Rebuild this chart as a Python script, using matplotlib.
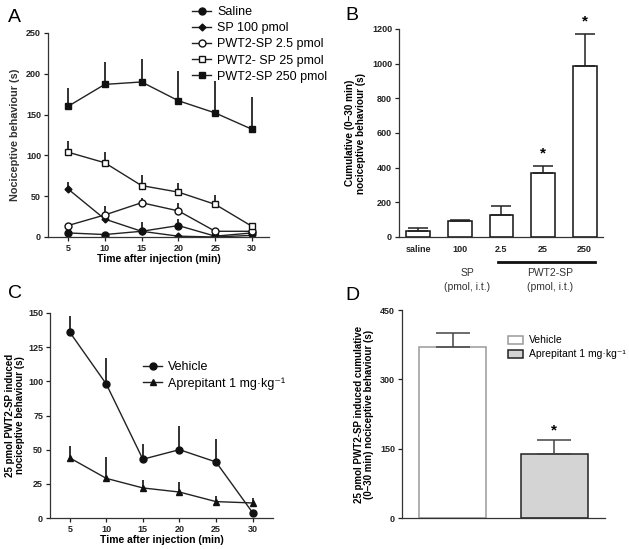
import matplotlib
matplotlib.use('Agg')
import matplotlib.pyplot as plt
import numpy as np

plt.rcParams['font.family'] = ['Liberation Sans', 'DejaVu Sans']

# --- panel A: time course ---
times = [5, 10, 15, 20, 25, 30]
saline = [5, 3, 7, 14, 1, 5]
saline_err = [2, 1, 11, 8, 1, 1]
sp100 = [59, 22, 7, 1, 0, 2]
sp100_err = [9, 5, 3, 1, 1, 1]
pwt_2_5 = [14, 27, 42, 32, 7, 7]
pwt_2_5_err = [3, 11, 6, 10, 2, 2]
pwt_25 = [104, 91, 63, 55, 40, 13]
pwt_25_err = [14, 13, 13, 11, 11, 2]
pwt_250 = [160, 187, 190, 167, 152, 132]
pwt_250_err = [23, 28, 28, 37, 39, 39]

# --- panel B: cumulative ---
b_labels = ['saline', '100', '2.5', '25', '250']
b_vals = [37, 94, 129, 369, 985]
b_err = [15, 6, 48, 40, 186]

# --- panel C: aprepitant time course ---
vehicle = [136, 98, 43, 50, 41, 4]
vehicle_err = [12, 19, 11, 17, 17, 0]
aprep = [44, 29, 22, 19, 12, 11]
aprep_err = [9, 16, 6, 7, 4, 4]

# --- panel D: cumulative aprepitant ---
d_labels = ['Vehicle', 'Aprepitant 1 mg·kg⁻¹']
d_vals = [369, 139]
d_err = [31, 29]

W, H = 629, 549
fig = plt.figure(figsize=(W / 100, H / 100), dpi=100)


def box(l, t, r, b):
    return [l / W, 1 - b / H, (r - l) / W, (b - t) / H]


def style(ax):
    for s in ['top', 'right']:
        ax.spines[s].set_visible(False)
    for s in ['left', 'bottom']:
        ax.spines[s].set_color('#333333')
        ax.spines[s].set_linewidth(0.9)
    ax.tick_params(labelsize=6.5, width=0.9, length=3, pad=2, colors='#222222')
    for lab in ax.get_xticklabels() + ax.get_yticklabels():
        lab.set_fontweight('bold')


def line(ax, x, y, err, marker, face, label, ms=5):
    ax.errorbar(x, y, yerr=[np.zeros(len(err)), err], fmt='none',
                ecolor='#222222', elinewidth=1.3, capsize=0)
    ax.plot(x, y, color='#222222', lw=1, marker=marker, ms=ms,
            mfc=face, mec='#111111', mew=1, label=label)


# A
axA = fig.add_axes(box(48, 33, 269, 237))
line(axA, times, saline, saline_err, 'o', '#111111', 'Saline')
line(axA, times, sp100, sp100_err, 'D', '#111111', 'SP 100 pmol', ms=3.5)
line(axA, times, pwt_2_5, pwt_2_5_err, 'o', 'white', 'PWT2-SP 2.5 pmol')
line(axA, times, pwt_25, pwt_25_err, 's', 'white', 'PWT2- SP 25 pmol')
line(axA, times, pwt_250, pwt_250_err, 's', '#111111', 'PWT2-SP 250 pmol')
axA.set_xlim(2.3, 32.3)
axA.set_ylim(0, 250)
axA.set_xticks(times)
axA.set_yticks([0, 50, 100, 150, 200, 250])
style(axA)
axA.set_xlabel('Time after injection (min)', fontsize=7.5, fontweight='bold', labelpad=1)
axA.set_ylabel('Nociceptive behaviour (s)', fontsize=7.8, fontweight='bold',
               labelpad=4, color='#333333')
axA.legend(loc='upper left', bbox_to_anchor=(186 / W, 1 - 0 / H),
           bbox_transform=fig.transFigure, frameon=False, fontsize=9,
           handlelength=1.5, handletextpad=0.5, labelspacing=0.33, borderpad=0)

# B
axB = fig.add_axes(box(399, 29, 603, 237))
xb = np.arange(len(b_vals))
axB.bar(xb, b_vals, width=0.57, color='white', edgecolor='#111111', lw=1.1)
axB.errorbar(xb, b_vals, yerr=[np.zeros(len(b_err)), b_err], fmt='none',
             ecolor='#222222', elinewidth=1.1, capsize=7, capthick=1.1)
axB.set_xlim(-0.46, 4.44)
axB.set_ylim(0, 1200)
axB.set_xticks(xb)
axB.set_xticklabels(b_labels)
axB.set_yticks(range(0, 1201, 200))
style(axB)
axB.tick_params(axis='x', length=0, pad=6)
axB.set_ylabel('Cumulative (0\u201330 min)\nnociceptive behaviour (s)',
               fontsize=7.2, fontweight='bold', labelpad=4)
for i in [3, 4]:
    axB.text(xb[i], b_vals[i] + b_err[i] + 30, '*', ha='center', va='bottom',
             fontsize=11, fontweight='bold')
fig.add_artist(plt.Line2D([498 / W, 595 / W], [1 - 262 / H] * 2, color='#111111', lw=2))
fig.text(467 / W, 1 - 273 / H, 'SP', ha='center', va='center', fontsize=7.5, color='#333333')
fig.text(467 / W, 1 - 287 / H, '(pmol, i.t.)', ha='center', va='center', fontsize=7.5, color='#333333')
fig.text(550 / W, 1 - 273 / H, 'PWT2-SP', ha='center', va='center', fontsize=7.5, color='#333333')
fig.text(550 / W, 1 - 287 / H, '(pmol, i.t.)', ha='center', va='center', fontsize=7.5, color='#333333')

# C
axC = fig.add_axes(box(50, 313, 273, 518))
line(axC, times, vehicle, vehicle_err, 'o', '#111111', 'Vehicle')
line(axC, times, aprep, aprep_err, '^', '#111111', 'Aprepitant 1 mg·kg⁻¹')
axC.set_xlim(2.3, 32.8)
axC.set_ylim(0, 150)
axC.set_xticks(times)
axC.set_yticks([0, 25, 50, 75, 100, 125, 150])
style(axC)
axC.set_xlabel('Time after injection (min)', fontsize=7.5, fontweight='bold', labelpad=1)
axC.set_ylabel('25 pmol PWT2-SP induced\nnociceptive behaviour (s)',
               fontsize=7, fontweight='bold', labelpad=2, linespacing=1.05)
axC.legend(loc='upper left', bbox_to_anchor=(137 / W, 1 - 355 / H),
           bbox_transform=fig.transFigure, frameon=False, fontsize=9,
           handlelength=1.5, handletextpad=0.5, labelspacing=0.3, borderpad=0)

# D
axD = fig.add_axes(box(402, 310, 605, 518))
xd = np.arange(len(d_vals))
bars = axD.bar(xd, d_vals, width=0.66, color=['white', '#d4d4d4'],
               edgecolor=['#9a9a9a', '#222222'], lw=1.1)
axD.errorbar(xd, d_vals, yerr=[np.zeros(len(d_err)), d_err], fmt='none',
             ecolor='#444444', elinewidth=1.1, capsize=12, capthick=1.1)
axD.set_xlim(-0.5, 1.5)
axD.set_ylim(0, 450)
axD.set_xticks([])
axD.set_yticks([0, 150, 300, 450])
style(axD)
axD.set_ylabel('25 pmol PWT2-SP induced cumulative\n(0\u201330 min) nociceptive behaviour (s)',
               fontsize=7, fontweight='bold', labelpad=4, linespacing=1.05)
axD.text(xd[1], d_vals[1] + d_err[1] + 6, '*', ha='center', va='bottom',
         fontsize=11, fontweight='bold')
axD.legend(bars, d_labels, loc='upper left', bbox_to_anchor=(503 / W, 1 - 330 / H),
           bbox_transform=fig.transFigure, frameon=False, fontsize=7.5,
           handlelength=1.4, handleheight=0.8, handletextpad=0.6,
           labelspacing=0.4, borderpad=0)

# panel letters
for s, x, y in [('A', 14, 17), ('B', 352, 15), ('C', 15, 293), ('D', 352, 295)]:
    fig.text(x / W, 1 - y / H, s, ha='center', va='center', fontsize=14, fontweight='medium')

fig.savefig('out.png', dpi=100)
plt.close('all')
